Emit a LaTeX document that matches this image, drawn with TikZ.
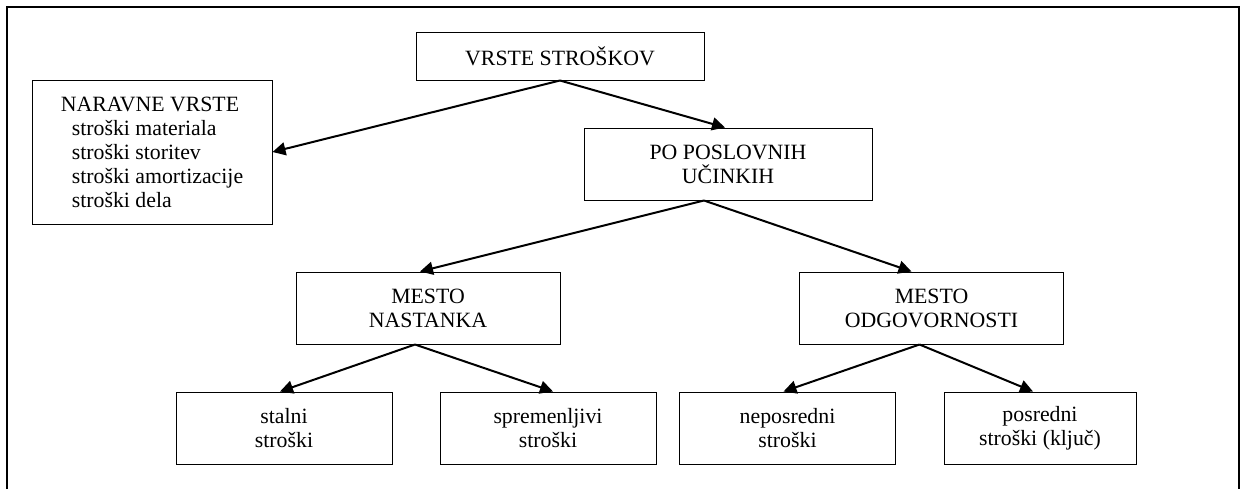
\documentclass[tikz,border=0pt]{standalone}
\usepackage{fontspec}
\setmainfont{Liberation Serif}
\usetikzlibrary{arrows.meta,positioning}
\tikzset{box/.style={rectangle,draw=black,line width=0.5pt,inner sep=0pt,minimum height=36pt,align=center,
  font=\fontsize{10.9}{12}\selectfont},
  arr/.style={-{Triangle[length=6.5pt,width=6.5pt]},line width=1pt}}

\begin{document}
\begin{tikzpicture}[x=0.5pt,y=-0.5pt]
\useasboundingbox (0,0) rectangle (1241,489);
% \draw[help lines] (0,0) grid (1241,489);
\draw[line width=1pt] (6.5,489) -- (6.5,6.5) -- (1239,6.5) -- (1239,489);
\node (vrste) [box,minimum width=144pt,minimum height=24pt] at (560,56) {VRSTE STROŠKOV};
\node (naravne) [box,minimum width=120pt,minimum height=72pt,align=left] at (152,152)
  {NARAVNE VRSTE\\ \hspace*{5.5pt}stroški materiala\\ \hspace*{5.5pt}stroški storitev\\
   \hspace*{5.5pt}stroški amortizacije\\ \hspace*{5.5pt}stroški dela};
\node (po) [box,minimum width=144pt] at (728,164) {PO POSLOVNIH\\ UČINKIH};
%
\node (nastanek) [box,minimum width=132pt] at (428,308) {MESTO\\ NASTANKA};
\node (odgov) [box,minimum width=132pt] at (931.5,308) {MESTO\\ ODGOVORNOSTI};
%
\node (stalni) [box,minimum width=108pt] at (284,428) {stalni\\ stroški};
\node (spremen) [box,minimum width=108pt] at (548,428) {spremenljivi\\ stroški};
\node (neposr) [box,minimum width=108pt] at (787.5,428) {neposredni\\ stroški};
\node (posr) [box,minimum width=96pt] at (1040,428) {posredni\\ stroški (ključ)};
%
\draw[arr] (vrste.south) -- (naravne.east);
\draw[arr] (vrste.south) -- ([xshift=-1.5pt]po.north);
\draw[arr] ([xshift=-12pt]po.south) -- ([xshift=-4pt]nastanek.north);
\draw[arr] ([xshift=-12pt]po.south) -- ([xshift=-10pt]odgov.north);
\draw[arr] ([xshift=-6.5pt]nastanek.south) -- ([xshift=-2pt]stalni.north);
\draw[arr] ([xshift=-6.5pt]nastanek.south) -- ([xshift=2.5pt]spremen.north);
\draw[arr] ([xshift=-6pt]odgov.south) -- ([xshift=-2pt]neposr.north);
\draw[arr] ([xshift=-6pt]odgov.south) -- ([xshift=-3.5pt]posr.north);
\end{tikzpicture}
\end{document}
